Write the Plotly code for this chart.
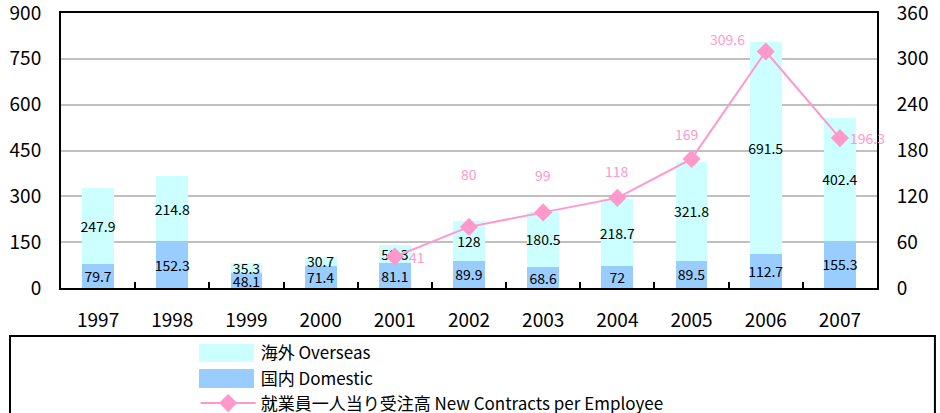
import plotly.graph_objects as go

years = ["1997", "1998", "1999", "2000", "2001", "2002", "2003", "2004", "2005", "2006", "2007"]
domestic = [79.7, 152.3, 48.1, 71.4, 81.1, 89.9, 68.6, 72, 89.5, 112.7, 155.3]
overseas = [247.9, 214.8, 35.3, 30.7, 58.3, 128, 180.5, 218.7, 321.8, 691.5, 402.4]
line_years = ["2001", "2002", "2003", "2004", "2005", "2006", "2007"]
per_employee = [41, 80, 99, 118, 169, 309.6, 196.3]
per_employee_text = ["41", "80", "99", "118", "169", "309.6", "196.3"]

# label offsets (style only, pixels)
lbl_dx = [22, 0, 0, 0, -5, -38, 28]
lbl_dy = [0, 53, 37, 27, 25, 13, 0]

FONT = "Noto Sans CJK JP"
C_OVER = "#CCFFFF"
C_DOM = "#99CCFF"
C_LINE = "#FF99CC"

fig = go.Figure()
fig.add_trace(go.Bar(
    x=years, y=domestic, name="国内 Domestic", marker=dict(color=C_DOM, line=dict(width=0)),
    text=[str(v) for v in domestic], textposition="inside", insidetextanchor="middle", textangle=0,
    textfont=dict(size=14, color="black", family=FONT), legendrank=2,
))
fig.add_trace(go.Bar(
    x=years, y=overseas, name="海外 Overseas", marker=dict(color=C_OVER, line=dict(width=0)),
    text=[str(v) for v in overseas], textposition="inside", insidetextanchor="middle", textangle=0,
    textfont=dict(size=14, color="black", family=FONT), legendrank=1,
))
fig.add_trace(go.Scatter(
    x=line_years, y=per_employee, name="就業員一人当り受注高 New Contracts per Employee",
    mode="lines+markers", yaxis="y2",
    line=dict(color=C_LINE, width=2),
    marker=dict(symbol="diamond", size=14, color=C_LINE),
    legendrank=3,
))

for x, v, t, dx, dy in zip(line_years, per_employee, per_employee_text, lbl_dx, lbl_dy):
    fig.add_annotation(x=years.index(x), y=v, xref="x", yref="y2", text=t, showarrow=False,
                       xshift=dx, yshift=dy, font=dict(size=14, color=C_LINE, family=FONT))

# legend frame
fig.add_shape(type="rect", xref="paper", yref="paper",
              x0=-0.0625, x1=1.071, y0=-0.6, y1=-0.1745,
              line=dict(color="black", width=2), fillcolor="rgba(0,0,0,0)")
# wide legend swatches (decorative, behind the native legend symbols)
fig.add_shape(type="rect", xref="paper", yref="paper", x0=0.1691, x1=0.2365, y0=-0.269, y1=-0.2036,
              line=dict(width=0), fillcolor=C_OVER)
fig.add_shape(type="rect", xref="paper", yref="paper", x0=0.1691, x1=0.2365, y0=-0.3636, y1=-0.2945,
              line=dict(width=0), fillcolor=C_DOM)

fig.update_layout(
    width=940, height=413,
    margin=dict(l=61, r=63, t=13, b=125, autoexpand=False),
    paper_bgcolor="white", plot_bgcolor="white",
    barmode="stack", bargap=0.57,
    uniformtext=dict(minsize=14, mode="show"),
    font=dict(family=FONT, size=19, color="black"),
    showlegend=True,
    legend=dict(orientation="v", x=0.165, xanchor="left", y=-0.172, yanchor="top",
                traceorder="normal", font=dict(size=17, family=FONT),
                itemwidth=55, tracegroupgap=0, bgcolor="rgba(0,0,0,0)"),
    xaxis=dict(type="category", range=[-0.5, 10.5], showline=True, linecolor="black", linewidth=2, mirror=True,
               ticks="inside", ticklen=6, tickcolor="black", tickwidth=2, tickson="boundaries",
               showgrid=False, ticklabelstandoff=14, tickfont=dict(size=19), tickangle=0),
    yaxis=dict(range=[0, 900], dtick=150, showline=True, linecolor="black", linewidth=2,
               showgrid=True, gridcolor="#C0C0C0", gridwidth=1.5, ticks="",
               ticklabelstandoff=14, zeroline=False, tickfont=dict(size=19),
               ticklabeloverflow="allow"),
    yaxis2=dict(range=[0, 360], dtick=60, overlaying="y", side="right", showline=True,
                linecolor="black", linewidth=2, showgrid=False, ticks="",
                ticklabelstandoff=14, zeroline=False, tickfont=dict(size=19),
                ticklabeloverflow="allow"),
)

fig.write_html("out.html", config={"displayModeBar": False},
               post_script="document.body.style.margin='0';")
